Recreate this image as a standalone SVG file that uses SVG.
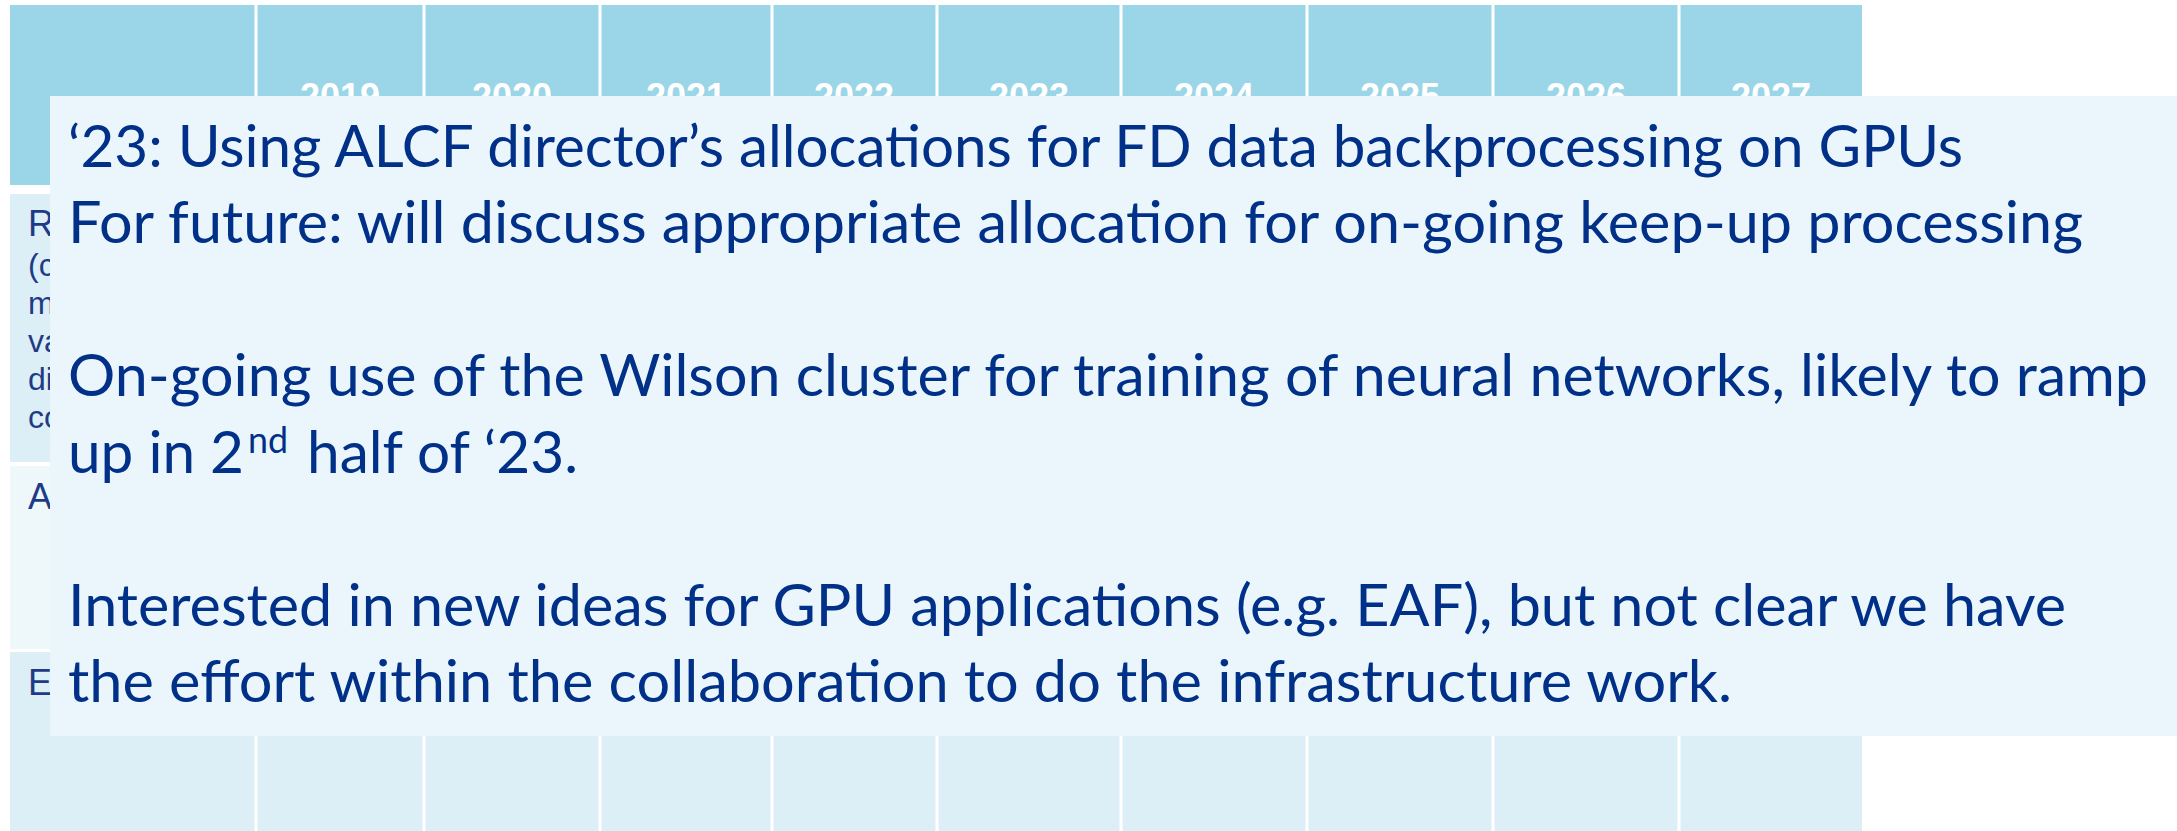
<svg xmlns="http://www.w3.org/2000/svg" width="2177" height="831" viewBox="0 0 2177 831">
  <style>
    .hdr { fill: #9BD6E8; }
    .rowA { fill: #DDEFF6; }
    .rowB { fill: #EEF7FA; }
    .vline { stroke: #FFFFFF; stroke-width: 3; }
    .year { font-family: "Liberation Sans", Arial, sans-serif; font-weight: bold; font-size: 36px; fill: #FFFFFF; text-anchor: middle; }
    .lbl { font-family: "Liberation Sans", Arial, sans-serif; font-size: 32px; fill: #1F3B87; }
    .lblT { font-family: "Liberation Sans", Arial, sans-serif; font-size: 36px; fill: #1F3B87; }
    .note { font-family: Lato, "Open Sans", sans-serif; font-size: 58px; fill: #003087; }
    .sup { font-family: Lato, "Open Sans", sans-serif; font-size: 36px; fill: #003087; }
  </style>
  <rect width="2177" height="831" fill="#FFFFFF"/>

  <g id="table">
    <rect class="hdr" x="10" y="5" width="1852" height="180"/>
    <rect class="rowA" x="10" y="194" width="1852" height="268"/>
    <rect class="rowB" x="10" y="466" width="1852" height="183"/>
    <rect class="rowA" x="10" y="652" width="1852" height="179"/>
    <g id="grid">
      <line class="vline" x1="256" y1="5" x2="256" y2="831"/>
      <line class="vline" x1="424" y1="5" x2="424" y2="831"/>
      <line class="vline" x1="600" y1="5" x2="600" y2="831"/>
      <line class="vline" x1="772" y1="5" x2="772" y2="831"/>
      <line class="vline" x1="937" y1="5" x2="937" y2="831"/>
      <line class="vline" x1="1121" y1="5" x2="1121" y2="831"/>
      <line class="vline" x1="1307" y1="5" x2="1307" y2="831"/>
      <line class="vline" x1="1493" y1="5" x2="1493" y2="831"/>
      <line class="vline" x1="1679" y1="5" x2="1679" y2="831"/>
    </g>
    <g id="years">
      <text class="year" x="340" y="109">2019</text>
      <text class="year" x="512" y="109">2020</text>
      <text class="year" x="686" y="109">2021</text>
      <text class="year" x="854" y="109">2022</text>
      <text class="year" x="1029" y="109">2023</text>
      <text class="year" x="1214" y="109">2024</text>
      <text class="year" x="1400" y="109">2025</text>
      <text class="year" x="1586" y="109">2026</text>
      <text class="year" x="1771" y="109">2027</text>
    </g>
    <g id="row-labels">
      <text class="lblT" x="28" y="236">R</text>
      <text class="lbl" x="28" y="276">(c</text>
      <text class="lbl" x="28" y="314">m</text>
      <text class="lbl" x="28" y="352">va</text>
      <text class="lbl" x="28" y="390">di</text>
      <text class="lbl" x="28" y="428">co</text>
      <text class="lblT" x="28" y="509">A</text>
      <text class="lblT" x="28" y="695">E</text>
    </g>
  </g>

  <g id="callout">
    <rect x="50" y="96" width="2127" height="640" fill="#EAF6FB"/>
    <text class="note" x="68" y="167" textLength="1895" lengthAdjust="spacingAndGlyphs">‘23: Using ALCF director’s allocations for FD data backprocessing on GPUs</text>
    <text class="note" x="68" y="243" textLength="2015" lengthAdjust="spacingAndGlyphs">For future: will discuss appropriate allocation for on-going keep-up processing</text>
    <text class="note" x="68" y="396" textLength="2080" lengthAdjust="spacingAndGlyphs">On-going use of the Wilson cluster for training of neural networks, likely to ramp</text>
    <text class="note" x="68" y="473" textLength="176" lengthAdjust="spacingAndGlyphs">up in 2</text>
    <text class="sup" x="248" y="453" textLength="40" lengthAdjust="spacingAndGlyphs">nd</text>
    <text class="note" x="307" y="473" textLength="271" lengthAdjust="spacingAndGlyphs">half of ‘23.</text>
    <text class="note" x="68" y="626" textLength="1998" lengthAdjust="spacingAndGlyphs">Interested in new ideas for GPU applications (e.g. EAF), but not clear we have</text>
    <text class="note" x="68" y="702" textLength="1664" lengthAdjust="spacingAndGlyphs">the effort within the collaboration to do the infrastructure work.</text>
  </g>
</svg>
